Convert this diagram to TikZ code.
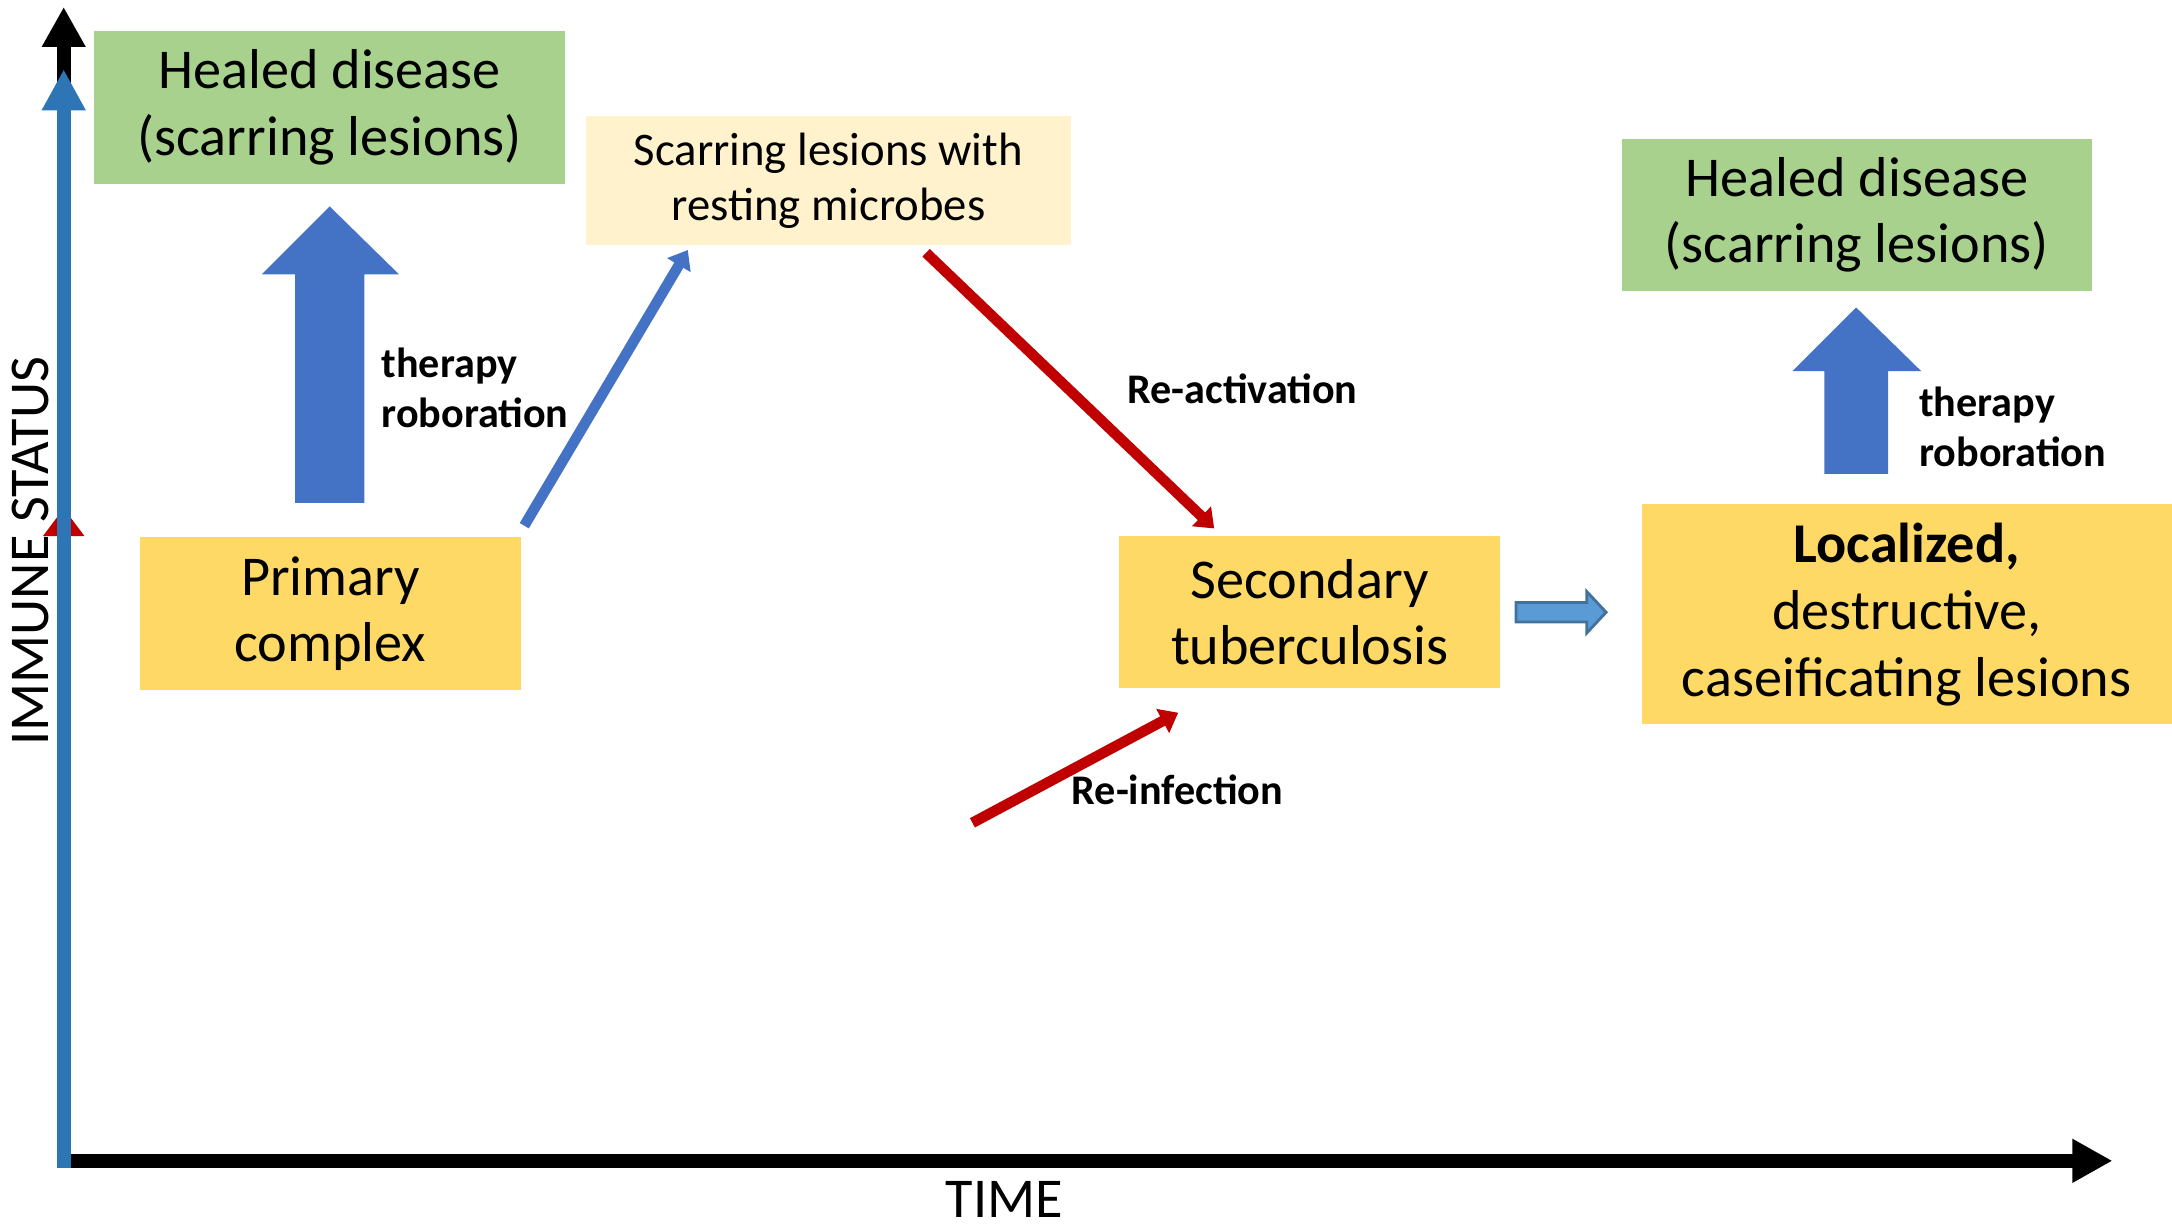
\documentclass[tikz,border=0pt]{standalone}
\usepackage{fontspec}
\setmainfont{Carlito}
\usetikzlibrary{arrows.meta,positioning,calc}

\definecolor{healgreen}{HTML}{A9D18E}
\definecolor{restcream}{HTML}{FFF2CC}
\definecolor{tbyellow}{HTML}{FFD966}
\definecolor{therblue}{HTML}{4472C4}
\definecolor{axisblue}{HTML}{2E75B6}
\definecolor{infred}{HTML}{C00000}
\definecolor{stepblue}{HTML}{5B9BD5}
\definecolor{stepedge}{HTML}{41719C}

\tikzset{
  stagebox/.style={rectangle, inner sep=0pt, align=center,
    font=\fontsize{16}{19}\selectfont},
  note/.style={inner sep=0pt, align=left,
    font=\fontsize{12}{14.3}\selectfont\bfseries},
  thinarrow/.style={line width=3pt, -{Triangle[length=5pt,width=7.5pt]}},
}

\begin{document}
\begin{tikzpicture}[x=0.01385cm, y=-0.01385cm]
  \useasboundingbox (0,0) rectangle (1568,887);

  % axes
  \draw[line width=4pt, -{Triangle[length=11.4pt,width=11.7pt]}] (46,843) -- (46,5);
  \fill[infred] (31,387) -- (46,367) -- (61,387) -- cycle;
  \draw[line width=4pt, -{Triangle[length=11.4pt,width=11.7pt]}] (41,838) -- (1525,838);
  \draw[axisblue, line width=4pt, -{Triangle[length=11.7pt,width=11.7pt]}] (46,843) -- (46,50);
  \node[font=\fontsize{16}{19}\selectfont] (time) at (725,866) {TIME};
  \node[font=\fontsize{16}{19}\selectfont, rotate=90] (immune) at (22,398) {IMMUNE STATUS};

  % stages
  \node[stagebox, fill=healgreen, minimum width=4.709cm, minimum height=1.537cm]
    (heal1) at (238,77.5) {Healed disease\\(scarring lesions)};
  \node[stagebox, fill=restcream, minimum width=4.848cm, minimum height=1.288cm,
    font=\fontsize{13.3}{15.8}\selectfont]
    (scar) at (598,130.5) {Scarring lesions with\\resting microbes};
  \node[stagebox, fill=tbyellow, minimum width=3.809cm, minimum height=1.524cm]
    (prim) at (238.5,443) {Primary\\complex};
  \node[stagebox, fill=tbyellow, minimum width=3.809cm, minimum height=1.524cm]
    (sec) at (945.5,442) {Secondary\\tuberculosis};
  \node[stagebox, fill=tbyellow, minimum width=5.305cm, minimum height=2.202cm]
    (loc) at (1376.5,443.5) {\textbf{Localized,}\\destructive,\\caseificating lesions};
  \node[stagebox, fill=healgreen, minimum width=4.695cm, minimum height=1.524cm]
    (heal2) at (1340.5,155) {Healed disease\\(scarring lesions)};

  % therapy arrows
  \fill[therblue] (213,363) -- (263,363) -- (263,198) -- (288,198) -- (238,149)
    -- (189,198) -- (213,198) -- cycle;
  \node[note, anchor=west] (ther1) at (275,280) {therapy\\roboration};
  \fill[therblue] (1317,342) -- (1363,342) -- (1363,268) -- (1387,268) -- (1340,222)
    -- (1294,268) -- (1317,268) -- cycle;
  \node[note, anchor=west] (ther2) at (1385,308) {therapy\\roboration};

  % transitions
  \draw[thinarrow, therblue] ($(prim.north east)+(2,-8)$) -- ($(scar.south west)+(74,3)$);
  \draw[thinarrow, infred] ($(scar.south west)+(246,5)$) -- ($(sec.north west)+(69,-5)$);
  \node[note] (react) at (897,281) {Re-activation};
  \coordinate (infsrc) at (702,594);
  \draw[thinarrow, infred] (infsrc) -- ($(sec.south west)+(43,17)$);
  \node[note] (reinf) at (850,570) {Re-infection};
  \filldraw[fill=stepblue, draw=stepedge, line width=0.8pt]
    ($(sec.east)+(11,-7)$) -- ++(51,0) -- ++(0,-8) -- ++(14,15) -- ++(-14,15)
    -- ++(0,-8) -- ++(-51,0) -- cycle;
\end{tikzpicture}
\end{document}
